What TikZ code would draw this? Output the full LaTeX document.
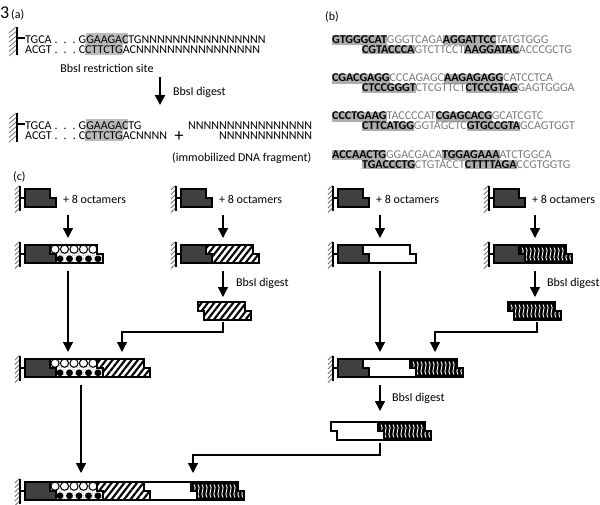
\documentclass[tikz,border=0pt]{standalone}
\usepackage{fontspec}
\setmainfont{Carlito}
\usetikzlibrary{arrows.meta,patterns.meta,positioning}

\colorlet{darkblock}{black!75}
\colorlet{siteshade}{black!27}
\colorlet{octshade}{black!32}
\colorlet{spacertext}{black!52}
\colorlet{wallgray}{black!55}

\newcommand\dts{\kern3pt.\kern6pt.\kern6pt.\kern3pt}
\newcommand\topstrut{\rule[-2pt]{0pt}{10pt}}
\newcommand\botstrut{\rule[-1pt]{0pt}{9pt}}
\newcommand\tightlines{\lineskiplimit-20pt\relax}
\newcommand\octa[2]{{\setlength{\fboxsep}{0pt}\colorbox{octshade}{#1\bfseries #2}}}
\newcommand\site[2]{{\setlength{\fboxsep}{0pt}\colorbox{siteshade}{#1#2}}}
\newcommand\spacer[1]{\textcolor{spacertext}{#1}}

% stepped strand pair: left x (top strand), top y, length
\newcommand\blkpath[3]{(#1,#2) -- ++(#3,0) -- ++(0,9) -- ++(6,0) -- ++(0,9) -- ++(-#3,0) -- ++(0,-9) -- ++(-6,0) -- cycle}

\newcommand\anchorwall[2]{%
  \foreach \k in {0,...,5}
    \draw[wallhatch] ({#1-10},{#2+1+4.5*\k}) -- ++(4.5,-4.5);
  \draw[wallbar] ({#1-5},{#2-3}) -- ({#1-5},{#2+22});
  \draw[blockline] ({#1-5},{#2+9}) -- (#1,{#2+9});}
\newcommand\darkpart[2]{\path[blockline, fill=darkblock] (#1,#2) -- ++(25,0) -- ++(0,9) -- ++(6,0) -- ++(0,9) -- ++(-31,0) -- cycle;}
\newcommand\whitepart[2]{\path[blockline, fill=white] \blkpath{#1}{#2}{47};}
\newcommand\hatchpart[2]{\path[blockline, preaction={fill=white}, preaction={pattern={Lines[angle=52,distance=5pt,line width=2.1pt]}}] \blkpath{#1}{#2}{47};}
\newcommand\wavypart[2]{%
  \begin{scope}
    \clip \blkpath{#1}{#2}{47};
    \fill[black] \blkpath{#1}{#2}{47};
    \foreach \k in {0,...,12}
      \draw[wavestroke] ({#1+3+4*\k},{#2+2.5}) .. controls +(3.5,3.5) and +(-3.5,-3.5) .. ++(1,13);
  \end{scope}
  \path[blockline] \blkpath{#1}{#2}{47};}
\newcommand\dotpart[2]{%
  \begin{scope}
    \clip \blkpath{#1}{#2}{47};
    \fill[white] \blkpath{#1}{#2}{47};
    \fill[pattern={Dots[distance=2.2pt,radius=0.4pt]}, pattern color=black!50] \blkpath{#1}{#2}{47};
    \foreach \k in {0,...,5} {
      \draw[line width=1pt, fill=white] ({#1+5+9.5*\k},{#2+4.2}) circle[radius=4.1];
      \fill ({#1+10+9.5*\k},{#2+13.8}) circle[radius=3.4];
    }
  \end{scope}
  \path[blockline] \blkpath{#1}{#2}{47};}

\begin{document}
\begin{tikzpicture}[x=1pt, y=-1pt,
  duplex/.style={inner sep=0pt, align=left, anchor=north west,
    font=\fontsize{12}{10}\selectfont\tightlines},
  lbl/.style={inner sep=0pt, font=\fontsize{12}{12}\selectfont},
  blockline/.style={draw=black, line width=1.1pt},
  wallbar/.style={line width=1.6pt},
  wallhatch/.style={draw=wallgray, line width=0.8pt},
  wavestroke/.style={draw=white, line width=0.9pt},
  flow/.style={line width=1.4pt, -{Triangle[length=10pt,width=10pt]}},
  link/.style={line width=1.2pt}]
\useasboundingbox (0,0) rectangle (600,504);

% panel labels
\node[inner sep=0pt, anchor=base west, font=\fontsize{18}{18}\selectfont] (fig) at (0,18) {3};
\node[lbl, anchor=base west] (pa) at (11,18) {(a)};
\node[lbl, anchor=base west] (pb) at (325,20) {(b)};
\node[lbl, anchor=base west] (pc) at (13,180) {(c)};

% (a) before digest
\node[duplex] (s1) at (25,33)
  {TGCA\dts G\site{\rule[-1pt]{0pt}{11pt}}{GAAGAC}TGNNNNNNNNNNNNNNNN\\
   ACGT\dts C\site{\rule[-2pt]{0pt}{11pt}}{CTTCTG}ACNNNNNNNNNNNNNNNN};
\node[lbl, anchor=base] (site) at (107,72) {BbsI restriction site};
\foreach \k in {0,...,5}
  \draw[wallhatch] (9,{33+4.6*\k}) -- ++(7,-6);
\draw[wallbar, line width=2pt] (17,27) -- (17,55);
\draw[link] ([xshift=-8pt,yshift=-5pt]s1.north west) -- ([yshift=-5pt]s1.north west);

\coordinate (cutA) at (160,77);
\coordinate (cutB) at (160,105);
\draw[flow, line width=2pt] (cutA) -- (cutB);
\node[lbl, anchor=base west] (cutlbl) at (173,95) {BbsI digest};

% (a) after digest
\node[duplex] (s2) at (25,119)
  {TGCA\dts G\site{\rule[-1pt]{0pt}{11pt}}{GAAGAC}TG\\
   ACGT\dts C\site{\rule[-2pt]{0pt}{11pt}}{CTTCTG}ACNNNN};
\node[inner sep=0pt, font=\fontsize{18}{18}\selectfont] (plus) at (179,137) {+};
\node[duplex, align=right] (frag) at (188,121)
  {\rule{0pt}{8pt}NNNNNNNNNNNNNNNN\\NNNNNNNNNNNN};
\node[lbl, anchor=base west] (imm) at (172,161) {(immobilized DNA fragment)};
\foreach \k in {0,...,5}
  \draw[wallhatch] (9,{119+4.6*\k}) -- ++(7,-6);
\draw[wallbar, line width=2pt] (17,113) -- (17,142);
\draw[link] ([xshift=-8pt,yshift=-5pt]s2.north west) -- ([yshift=-5pt]s2.north west);

% (b) octamer pairs
\foreach \ta/\tb/\tc/\td/\ba/\bb/\bc/\bd [count=\g from 0] in {
  GTGGGCAT/GGGTCAGA/AGGATTCC/TATGTGGG/CGTACCCA/GTCTTCCT/AAGGATAC/ACCCGCTG,
  CGACGAGG/CCCAGAGC/AAGAGAGG/CATCCTCA/CTCCGGGT/CTCGTTCT/CTCCGTAG/GAGTGGGA,
  CCCTGAAG/TACCCCAT/CGAGCACG/GCATCGTC/CTTCATGG/GGTAGCTC/GTGCCGTA/GCAGTGGT,
  ACCAACTG/GGACGACA/TGGAGAAA/ATCTGGCA/TGACCCTG/CTGTACCT/CTTTTAGA/CCGTGGTG} {
  \node[duplex] (pair\g) at (332,{35+38.3*\g})
    {\octa{\topstrut}{\ta}\spacer{\tb}\octa{\topstrut}{\tc}\spacer{\td}\\
     \hspace*{30pt}\octa{\botstrut}{\ba}\spacer{\bb}\octa{\botstrut}{\bc}\spacer{\bd}};
}

% (c) row 1: starting blocks
\foreach \x [count=\c] in {25,181,338,494} {
  \anchorwall{\x}{189}
  \darkpart{\x}{189}
  \node[lbl, anchor=base west] (oct\c) at ({\x+38},203) {+ 8 octamers};
}
% row 2
\foreach \x in {25,181,338,494} {
  \anchorwall{\x}{245}
  \darkpart{\x}{245}
}
\dotpart{50}{245}
\hatchpart{206}{245}
\whitepart{363}{245}
\wavypart{519}{245}
% row 3
\hatchpart{198}{302}
\wavypart{508}{302}
% row 4
\anchorwall{25}{359}
\darkpart{25}{359}
\dotpart{50}{359}
\hatchpart{97}{359}
\anchorwall{338}{359}
\darkpart{338}{359}
\whitepart{363}{359}
\wavypart{410}{359}
% row 5
\whitepart{331}{422}
\wavypart{378}{422}
% row 6
\anchorwall{25}{482}
\darkpart{25}{482}
\dotpart{50}{482}
\hatchpart{97}{482}
\whitepart{144}{482}
\wavypart{191}{482}

% arrows
\foreach \cx [count=\c] in {68,223,380,535} {
  \coordinate (add\c) at (\cx,215);
  \coordinate (ext\c) at (\cx,238);
  \draw[flow] (add\c) -- (ext\c);
}
\coordinate (keep1) at (68,271);
\coordinate (join1) at (68,352);
\draw[flow] (keep1) -- (join1);
\coordinate (keep3) at (380,271);
\coordinate (join3) at (380,352);
\draw[flow] (keep3) -- (join3);

\coordinate (cut2) at (223,271);
\coordinate (frag2) at (223,297);
\draw[flow] (cut2) -- (frag2);
\node[lbl, anchor=base west] (dig2) at (236,286) {BbsI digest};
\coordinate (cut4) at (535,271);
\coordinate (frag4) at (535,297);
\draw[flow] (cut4) -- (frag4);
\node[lbl, anchor=base west] (dig4) at (547,286) {BbsI digest};
\coordinate (cut5) at (380,385);
\coordinate (frag5) at (380,411);
\draw[flow] (cut5) -- (frag5);
\node[lbl, anchor=base west] (dig5) at (392,401) {BbsI digest};

\coordinate (out2) at (223,322);
\coordinate (in2) at (122,352);
\draw[link, -{Triangle[length=10pt,width=10pt]}] (out2) -- ++(0,10) -| (in2);
\coordinate (out4) at (537,322);
\coordinate (in4) at (435,352);
\draw[link, -{Triangle[length=10pt,width=10pt]}] (out4) -- ++(0,10) -| (in4);
\coordinate (out5) at (380,443);
\coordinate (in5) at (193,473);
\draw[link, -{Triangle[length=10pt,width=10pt]}] (out5) -- ++(0,12) -| (in5);
\coordinate (keep6) at (81,385);
\coordinate (join6) at (81,473);
\draw[flow] (keep6) -- (join6);
\end{tikzpicture}
\end{document}
